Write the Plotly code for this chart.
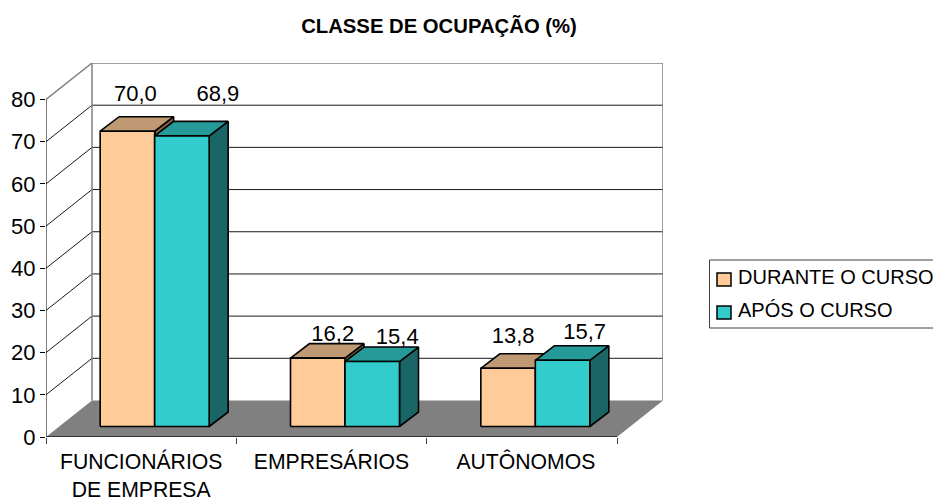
import plotly.graph_objects as go

# dados
categorias = ['FUNCIONÁRIOS<br>DE EMPRESA', 'EMPRESÁRIOS', 'AUTÔNOMOS']
durante = [70.0, 16.2, 13.8]
apos = [68.9, 15.4, 15.7]
y_ticks = [0, 10, 20, 30, 40, 50, 60, 70, 80]
nomes = ['DURANTE O CURSO', 'APÓS O CURSO']

# deslocamento dos rotulos em relacao ao topo da barra (px)
rotulo_dx_durante = [8, 15, 5]
rotulo_dy_durante = [36, 23, 31]
rotulo_dx_apos = [36, 25, 22]
rotulo_dy_apos = [40, 23, 26.5]

# area do grafico em px
ESQ, DIR, TOPO, BASE = 46, 663, 63, 437

# escalas: px por unidade de categoria e de valor
PX_X = (617 - ESQ) / 3
PX_Y = (BASE - 99.5) / 80

# profundidade da caixa 3D
prof_x = (DIR - 617) / PX_X
prof_y = 36.5 / PX_Y

# barras
larg_barra = 54.5 / PX_X
frente_x = 13.5 / PX_X
frente_y = 10.5 / PX_Y
barra_px = 19 / PX_X
barra_py = 14.5 / PX_Y

CINZA = '#808080'
PESSEGO = '#FFCC99'
TURQUESA = '#33CCCC'
FONTE = 'Liberation Sans, Arial, sans-serif'

fig = go.Figure()


def poligonos(lista, cor):
    xs, ys = [], []
    for p in lista:
        xs += [c[0] for c in p] + [p[0][0], None]
        ys += [c[1] for c in p] + [p[0][1], None]
    fig.add_trace(go.Scatter(x=xs, y=ys, mode='lines', fill='toself', fillcolor=cor,
                             line=dict(color='black', width=1.6), showlegend=False, hoverinfo='skip'))


def linha(xs, ys, cor, larg=1):
    fig.add_trace(go.Scatter(x=xs, y=ys, mode='lines', line=dict(color=cor, width=larg),
                             showlegend=False, hoverinfo='skip'))


# piso
fig.add_trace(go.Scatter(x=[0, 3, 3 + prof_x, prof_x, 0], y=[0, 0, prof_y, prof_y, 0], mode='lines', fill='toself',
                         fillcolor=CINZA, line=dict(color=CINZA, width=0), showlegend=False, hoverinfo='skip'))

# linhas de grade (parede esquerda + fundo)
gx, gy = [], []
for v in y_ticks[1:-1]:
    gx += [0, prof_x, 3 + prof_x, None]
    gy += [v, v + prof_y, v + prof_y, None]
linha(gx, gy, '#1a1a1a')

# contorno das paredes
topo = y_ticks[-1]
linha([0, prof_x, 3 + prof_x, 3 + prof_x], [topo, topo + prof_y, topo + prof_y, prof_y], CINZA, 1.5)
linha([prof_x, prof_x], [prof_y, topo + prof_y], CINZA, 1.5)

# eixos
linha([0, 0], [0, topo], 'black', 1)
linha([0, 3], [0, 0], '#1a1a1a', 1.5)


def barras(valores, lado, cor_frente, cor_topo, cor_lado):
    frentes, topos, lados = [], [], []
    for i, v in enumerate(valores):
        x0 = i + 0.5 + frente_x + (lado - 1) * larg_barra
        x1 = x0 + larg_barra
        y0 = frente_y
        y1 = frente_y + v
        frentes.append([(x0, y0), (x1, y0), (x1, y1), (x0, y1)])
        topos.append([(x0, y1), (x1, y1), (x1 + barra_px, y1 + barra_py), (x0 + barra_px, y1 + barra_py)])
        lados.append([(x1, y0), (x1 + barra_px, y0 + barra_py), (x1 + barra_px, y1 + barra_py), (x1, y1)])
    poligonos(lados, cor_lado)
    poligonos(topos, cor_topo)
    poligonos(frentes, cor_frente)


barras(durante, 0, PESSEGO, '#BF9973', '#806040')
barras(apos, 1, TURQUESA, '#269999', '#1A6666')


# rotulos de dados
def rotulos(valores, lado, rdx, rdy):
    fig.add_trace(go.Scatter(
        x=[i + 0.5 + frente_x + (lado - 0.5) * larg_barra + rdx[i] / PX_X for i in range(3)],
        y=[frente_y + v + rdy[i] / PX_Y for i, v in enumerate(valores)],
        mode='text',
        text=[f'{v:.1f}'.replace('.', ',') for v in valores],
        textposition='middle center',
        textfont=dict(family=FONTE, size=22, color='black'),
        showlegend=False, hoverinfo='skip'))


rotulos(durante, 0, rotulo_dx_durante, rotulo_dy_durante)
rotulos(apos, 1, rotulo_dx_apos, rotulo_dy_apos)


# legenda: px da pagina para fracao da area do grafico
def cx(x):
    return (x - ESQ) / (DIR - ESQ)


def cy(y):
    return (BASE - y) / (BASE - TOPO)


fig.add_shape(type='rect', xref='paper', yref='paper', x0=cx(709.5), x1=cx(940), y0=cy(328), y1=cy(260),
              line=dict(color='#404040', width=1), fillcolor='white')
for nome, cor, yc in zip(nomes, [PESSEGO, TURQUESA], [279.5, 312.5]):
    fig.add_shape(type='rect', xref='paper', yref='paper', x0=cx(717), x1=cx(731), y0=cy(yc + 6.5), y1=cy(yc - 6.5),
                  line=dict(color='black', width=1.5), fillcolor=cor)
    fig.add_annotation(text=nome, xref='paper', yref='paper', x=cx(736), y=cy(yc - 2.5), xanchor='left',
                       yanchor='middle', showarrow=False, font=dict(family=FONTE, size=20, color='black'))

fig.update_layout(
    width=933, height=500,
    margin=dict(l=ESQ, r=933 - DIR, t=TOPO, b=500 - BASE, autoexpand=False),
    plot_bgcolor='white', paper_bgcolor='white',
    font=dict(family=FONTE, color='black'),
    title=dict(text='<b>CLASSE DE OCUPAÇÃO (%)</b>', x=439 / 933, xref='container', xanchor='center',
               y=1 - 26 / 500, yref='container', yanchor='middle', font=dict(family=FONTE, size=20.3, color='black')),
    xaxis=dict(range=[0, 3 + prof_x], showgrid=False, zeroline=False, showline=False,
               tickvals=[0.5, 1.5, 2.5 + 4 / PX_X], ticktext=categorias, ticks='', tickfont=dict(size=21.2),
               ticklabelstandoff=10,
               minor=dict(tickvals=[0, 1, 2, 3], ticks='outside', ticklen=6, tickcolor='#404040', tickwidth=1, showgrid=False)),
    yaxis=dict(range=[0, (BASE - TOPO) / PX_Y], showgrid=False, zeroline=False, showline=False,
               tickvals=y_ticks, ticks='outside', ticklen=5, tickcolor='black', tickwidth=1, tickfont=dict(size=22)),
    showlegend=False,
)

fig.write_html('out.html', post_script="document.body.style.margin='0';", config=dict(displayModeBar=False))
